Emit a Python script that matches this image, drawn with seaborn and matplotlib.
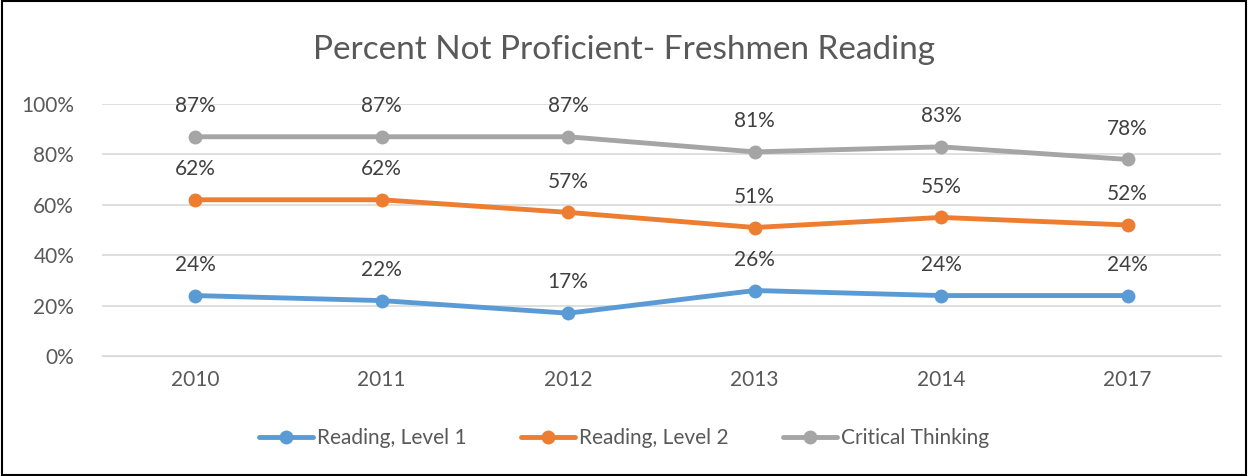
import numpy as np
import pandas as pd
import seaborn as sns
import matplotlib.pyplot as plt
from matplotlib.patches import Rectangle

years = ["2010", "2011", "2012", "2013", "2014", "2017"]
level1 = [24, 22, 17, 26, 24, 24]
level2 = [62, 62, 57, 51, 55, 52]
critical = [87, 87, 87, 81, 83, 78]
series_names = ["Reading, Level 1", "Reading, Level 2", "Critical Thinking"]
colors = ["#5B9BD5", "#ED7D31", "#A5A5A5"]

df = pd.DataFrame({
    "year": years * 3,
    "value": level1 + level2 + critical,
    "series": np.repeat(series_names, len(years)),
})

sns.set_style("white")
plt.rcParams['font.family'] = ['Lato', 'DejaVu Sans']
txt = "#595959"

fig = plt.figure(figsize=(12.48, 4.76), dpi=100)
ax = fig.add_axes([0.0817, 0.252, 0.8966, 0.5295])

sns.lineplot(data=df, x="year", y="value", hue="series", palette=colors,
             marker="o", markersize=10, markeredgewidth=0, linewidth=3.5,
             sort=False, ax=ax)

# data labels above each point
for name, vals, c in zip(series_names, [level1, level2, critical], colors):
    for i, v in enumerate(vals):
        ax.annotate(f"{v}%", (i, v), xytext=(0, 15), textcoords="offset points",
                    ha="center", va="bottom", fontsize=15, color="#404040")

ax.set_xlim(-0.5, len(years) - 0.5)
ax.set_ylim(0, 100)
ax.set_yticks([0, 20, 40, 60, 80, 100])
ax.set_yticklabels([f"{t}%" for t in [0, 20, 40, 60, 80, 100]])
ax.yaxis.grid(True, color="#D9D9D9", linewidth=1.2)
ax.set_axisbelow(True)
for s in ax.spines.values():
    s.set_visible(False)
ax.spines["bottom"].set_visible(True)
ax.spines["bottom"].set_color("#D9D9D9")
ax.tick_params(axis="both", length=0, labelsize=15, colors=txt, pad=10)
ax.tick_params(axis="y", pad=20)
ax.set_xlabel("")
ax.set_ylabel("")

fig.text(0.5, 0.895, "Percent Not Proficient- Freshmen Reading", ha="center",
         va="center", fontsize=24, color=txt)

handles, labels = ax.get_legend_handles_labels()
ax.legend(handles, labels, loc="center", ncol=3, frameon=False, fontsize=15,
          labelcolor=txt, handlelength=2.6, handletextpad=0.2, columnspacing=2.6)
ax.get_legend().set_bbox_to_anchor((0.5, 0.08), transform=fig.transFigure)

fig.patches.append(Rectangle((0.002, 0.002), 0.996, 0.996, transform=fig.transFigure,
                             fill=False, edgecolor="black", linewidth=1.5))

fig.savefig("out.png", dpi=100)
